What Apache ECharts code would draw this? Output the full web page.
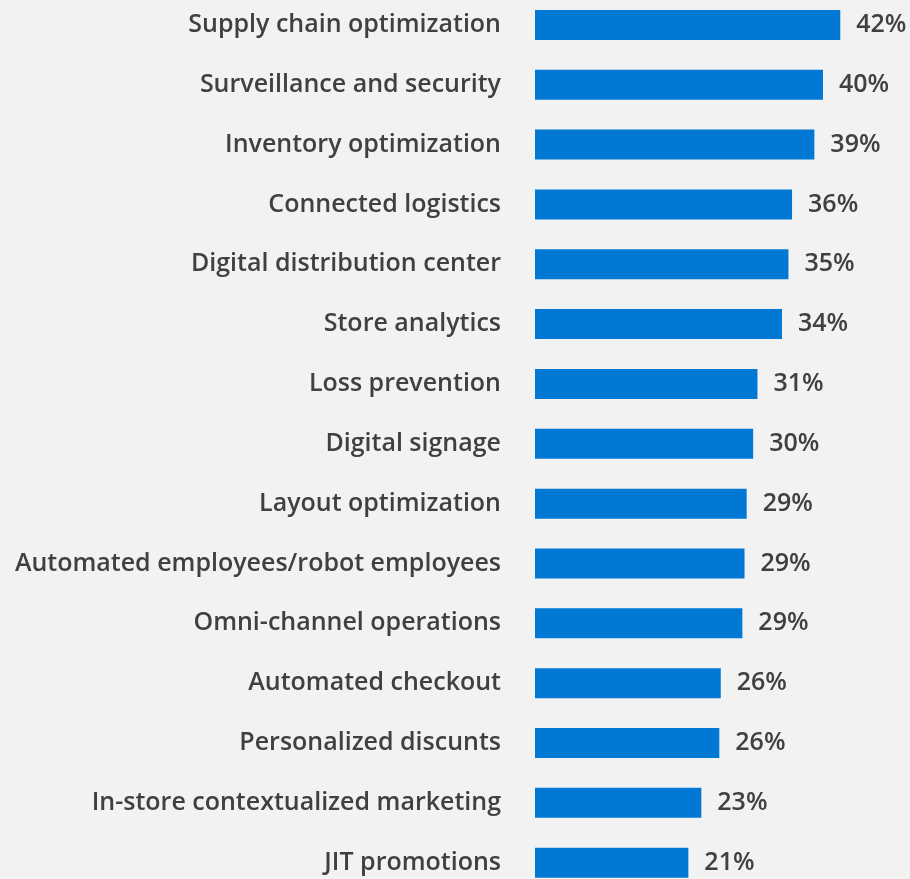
<!DOCTYPE html>
<html>
<head>
<meta charset="utf-8">
<script src="https://cdn.jsdelivr.net/npm/echarts@6/dist/echarts.min.js"></script>
<style>
  html, body { margin: 0; padding: 0; background: #f2f2f2; overflow: hidden; }
  #chart { width: 910px; height: 898px; margin-top: -5px; }
</style>
</head>
<body>
<div id="chart"></div>
<script>
var categories = [
  "Supply chain optimization",
  "Surveillance and security",
  "Inventory optimization",
  "Connected logistics",
  "Digital distribution center",
  "Store analytics",
  "Loss prevention",
  "Digital signage",
  "Layout optimization",
  "Automated employees/robot employees",
  "Omni-channel operations",
  "Automated checkout",
  "Personalized discunts",
  "In-store contextualized marketing",
  "JIT promotions"
];
// percentages
var values = [42.4, 40.0, 38.8, 35.7, 35.2, 34.3, 30.9, 30.3, 29.4, 29.1, 28.8, 25.8, 25.6, 23.1, 21.3];

var myChart = echarts.init(document.getElementById("chart"));

var option = {
  backgroundColor: "#f2f2f2",
  textStyle: { fontFamily: "Open Sans" },
  grid: { left: 535, top: 0, width: 360, height: 897.6, containLabel: false },
  xAxis: {
    type: "value",
    min: 0,
    max: 50,
    show: false
  },
  yAxis: {
    type: "category",
    data: categories,
    inverse: true,
    axisLine: { show: false },
    axisTick: { show: false },
    axisLabel: {
      margin: 34,
      color: "#404040",
      fontSize: 25,
      fontWeight: 600,
      fontFamily: "Open Sans",
      padding: [4, 0, 0, 0]
    }
  },
  series: [
    {
      type: "bar",
      data: values,
      barWidth: 30,
      itemStyle: { color: "#0078d4" },
      label: {
        show: true,
        position: "right",
        distance: 16,
        color: "#404040",
        fontSize: 25,
        fontWeight: 600,
        fontFamily: "Open Sans",
        padding: [4, 0, 0, 0],
        formatter: function (p) { return Math.round(p.value) + "%"; }
      }
    }
  ],
  animation: false
};

myChart.setOption(option);
</script>
</body>
</html>
